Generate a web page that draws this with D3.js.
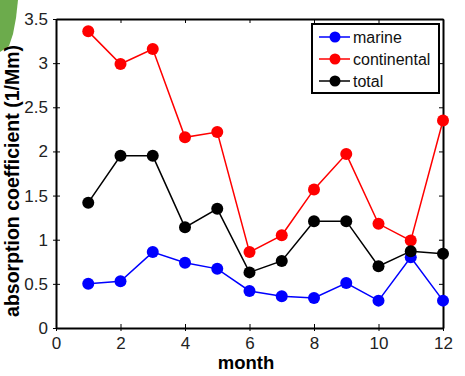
<!DOCTYPE html>
<html>
<head>
<meta charset="utf-8">
<title>absorption coefficient</title>
<script src="https://d3js.org/d3.v7.min.js"></script>
<style>
  body { margin: 0; background: #fff; }
  text { font-family: "Liberation Sans", Arial, sans-serif; }
</style>
</head>
<body>
<div id="chart"></div>
<script>
// monthly values
const months = [1, 2, 3, 4, 5, 6, 7, 8, 9, 10, 11, 12];
const marine = [0.50, 0.53, 0.86, 0.74, 0.67, 0.42, 0.36, 0.34, 0.51, 0.31, 0.80, 0.31];
const continental = [3.36, 2.99, 3.16, 2.16, 2.22, 0.86, 1.05, 1.57, 1.97, 1.18, 0.99, 2.35];
const total = [1.42, 1.95, 1.95, 1.14, 1.35, 0.63, 0.76, 1.21, 1.21, 0.70, 0.87, 0.84];
const xTicks = [0, 2, 4, 6, 8, 10, 12];
const yTicks = [0, 0.5, 1, 1.5, 2, 2.5, 3, 3.5];
const seriesNames = ["marine", "continental", "total"];
const seriesColors = ["#0000ff", "#ff0000", "#000000"];

const W = 465, H = 376;
const svg = d3.select("#chart").append("svg").attr("width", W).attr("height", H);

// green strip in the top-left corner of the source image
svg.append("path")
  .attr("d", "M0,0 L18,0 L16,18 L13,34 L9,46 L0,52 Z")
  .attr("fill", "#6cab4c");

const x = d3.scaleLinear().domain([0, 12]).range([56, 443]);
const y = d3.scaleLinear().domain([0, 3.5]).range([328, 19]);

const fs = "17px";

// bottom / left axes
const gx = svg.append("g").attr("transform", "translate(0,328)")
  .call(d3.axisBottom(x).tickValues(xTicks).tickSizeInner(-4).tickSizeOuter(0));
const gy = svg.append("g").attr("transform", "translate(56,0)")
  .call(d3.axisLeft(y).tickValues(yTicks).tickSizeInner(-4).tickSizeOuter(0).tickPadding(8)
    .tickFormat(d3.format("")));
// top / right mirrors
const gt = svg.append("g").attr("transform", "translate(0,19)")
  .call(d3.axisTop(x).tickValues(xTicks).tickSizeInner(-4).tickSizeOuter(0).tickFormat(""));
const gr = svg.append("g").attr("transform", "translate(443,0)")
  .call(d3.axisRight(y).tickValues(yTicks).tickSizeInner(-4).tickSizeOuter(0).tickFormat(""));

[gx, gy, gt, gr].forEach(g => {
  g.select(".domain").attr("stroke", "#000").attr("stroke-width", 2);
  g.selectAll(".tick line").attr("stroke", "#000").attr("stroke-width", 1);
  g.selectAll(".tick text").attr("fill", "#222").style("font-size", fs)
    .style("font-family", "'Liberation Sans', Arial, sans-serif");
});
gx.selectAll(".tick text").attr("y", 9);
// outer ticks stick slightly out like the original
gy.selectAll(".tick").append("line").attr("x1", -3).attr("x2", 0).attr("stroke", "#000");
gx.selectAll(".tick").append("line").attr("y1", 0).attr("y2", 3).attr("stroke", "#000");

// axis titles
svg.append("text")
  .attr("x", 246).attr("y", 369)
  .attr("text-anchor", "middle")
  .style("font-size", "18.5px").style("font-weight", "bold")
  .text("month");
svg.append("text")
  .attr("transform", "translate(19,181) rotate(-90)")
  .attr("text-anchor", "middle")
  .style("font-size", "19.5px").style("font-weight", "bold")
  .text("absorption coefficient (1/Mm)");

// series (total drawn last, on top)
const data = [marine, continental, total];
const line = d3.line().x((d, i) => x(months[i])).y(d => y(d));

[0, 1, 2].forEach(k => {
  const g = svg.append("g");
  g.append("path").datum(data[k])
    .attr("d", line).attr("fill", "none")
    .attr("stroke", seriesColors[k]).attr("stroke-width", 1.5);
  g.selectAll("circle").data(data[k]).enter().append("circle")
    .attr("cx", (d, i) => x(months[i])).attr("cy", d => y(d))
    .attr("r", 6).attr("fill", seriesColors[k]);
});

// legend
const leg = svg.append("g");
leg.append("rect")
  .attr("x", 312).attr("y", 24).attr("width", 127).attr("height", 69)
  .attr("fill", "#fff").attr("stroke", "#000").attr("stroke-width", 2);
seriesNames.forEach((name, i) => {
  const ly = 37 + i * 22;
  leg.append("line").attr("x1", 319).attr("x2", 350).attr("y1", ly).attr("y2", ly)
    .attr("stroke", seriesColors[i]).attr("stroke-width", 1.5);
  leg.append("circle").attr("cx", 335).attr("cy", ly).attr("r", 5.5).attr("fill", seriesColors[i]);
  leg.append("text").attr("x", 353).attr("y", ly + 5.5)
    .style("font-size", "16px").attr("fill", "#111").text(name);
});
</script>
</body>
</html>
